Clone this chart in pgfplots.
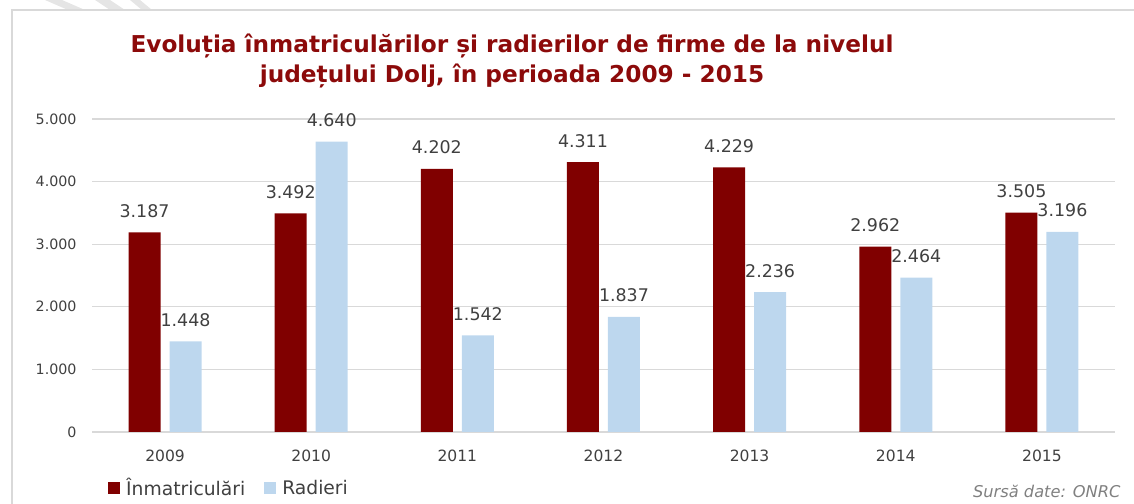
\documentclass[border=0pt]{standalone}
\usepackage{pgfplots}
\pgfplotsset{compat=1.18}
\usepackage{fontspec}
\setmainfont{DejaVu Sans}
\definecolor{inm}{RGB}{128,0,0}
\definecolor{rad}{RGB}{189,215,238}
\definecolor{titlec}{RGB}{140,10,10}
\definecolor{txt}{RGB}{64,64,64}
\definecolor{gridc}{RGB}{217,217,217}
\begin{document}
\begin{tikzpicture}[x=1bp,y=1bp]
\useasboundingbox (0,0) rectangle (1134,504);
% watermark stripes
\fill[gray!20] (45,504) -- (62,504) -- (85,494) -- (68,494) -- cycle;
\fill[gray!20] (95,504) -- (110,504) -- (125,494) -- (110,494) -- cycle;
\fill[gray!20] (130,504) -- (140,504) -- (152,494) -- (142,494) -- cycle;
% frame
\draw[gridc, line width=2bp] (12,-5) -- (12,494) -- (1140,494);
\begin{axis}[
  at={(92bp,72bp)}, anchor=south west,
  scale only axis, width=1023bp, height=313bp,
  xmin=-0.5, xmax=6.5, ymin=0, ymax=5000,
  ytick={0,1000,2000,3000,4000,5000},
  xtick={0,1,2,3,4,5,6},
  xticklabels={2009,2010,2011,2012,2013,2014,2015},
  /pgf/number format/.cd, 1000 sep={.}, assume math mode=true,
  /pgfplots/.cd,
  ymajorgrids, grid style={gridc, line width=1.2bp},
  axis line style={draw=none},
  major tick length=0pt,
  tick label style={font=\fontsize{14.3}{16}\selectfont, text=txt},
  xticklabel style={font=\fontsize{15.6}{18}\selectfont, anchor=base, yshift=-30bp},
  yticklabel style={xshift=-12bp},
  ybar, bar width=32bp,
  nodes near coords,
  every node near coord/.append style={font=\fontsize{17.5}{20}\selectfont, text=txt, anchor=base, yshift=15bp},
  legend style={at={(axis description cs:0.0156,-0.179)}, anchor=west, draw=none, fill=none,
    font=\fontsize{18.8}{22}\selectfont, text=txt, inner sep=0pt, legend columns=2,
    /tikz/every odd column/.append style={column sep=4bp},
    /tikz/every even column/.append style={column sep=17bp}},
  legend cell align=left,
  legend image code/.code={\fill[#1] (0bp,-6bp) rectangle (12bp,6bp);},
]
\draw[gridc, line width=1.5bp] (axis cs:-0.5,0) -- (axis cs:6.5,0);
\addplot[fill=inm, draw=none, bar shift=-20.5bp] coordinates {(0,3187) (1,3492) (2,4202) (3,4311) (4,4229) (5,2962) (6,3505)};
\addplot[fill=rad, draw=none, bar shift=20.5bp] coordinates {(0,1448) (1,4640) (2,1542) (3,1837) (4,2236) (5,2464) (6,3196)};
\legend{Înmatriculări, Radieri}
\end{axis}
\node[font=\bfseries\fontsize{23.3}{31}\selectfont, text=titlec, align=center] at (512,443) {Evoluția înmatriculărilor și radierilor de firme de la nivelul\\județului Dolj, în perioada 2009 - 2015};
\node[font=\itshape\fontsize{16.3}{18}\selectfont, text=gray, anchor=base east] at (1124,6) {Sursă date: ONRC};
\end{tikzpicture}
\end{document}
